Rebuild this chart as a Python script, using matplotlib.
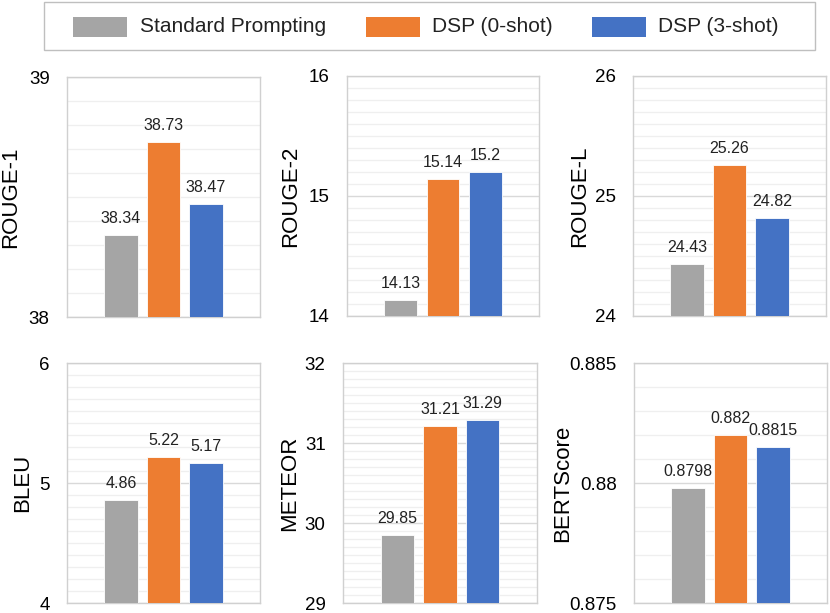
import matplotlib
matplotlib.use("Agg")
import matplotlib.pyplot as plt
import numpy as np
from matplotlib.patches import Rectangle
from matplotlib.ticker import MultipleLocator

plt.rcParams['font.family'] = ['Liberation Sans', 'DejaVu Sans']

series = ["Standard Prompting", "DSP (0-shot)", "DSP (3-shot)"]
colors = ["#A5A5A5", "#ED7D31", "#4472C4"]

metrics = ["ROUGE-1", "ROUGE-2", "ROUGE-L", "BLEU", "METEOR", "BERTScore"]
standard = [38.34, 14.13, 24.43, 4.86, 29.85, 0.8798]
dsp0 = [38.73, 15.14, 25.26, 5.22, 31.21, 0.882]
dsp3 = [38.47, 15.2, 24.82, 5.17, 31.29, 0.8815]
labels = [["38.34", "38.73", "38.47"], ["14.13", "15.14", "15.2"], ["24.43", "25.26", "24.82"],
          ["4.86", "5.22", "5.17"], ["29.85", "31.21", "31.29"], ["0.8798", "0.882", "0.8815"]]
ylims = [(38, 39), (14, 16), (24, 26), (4, 6), (29, 32), (0.875, 0.885)]
majors = [1, 1, 1, 1, 1, 0.005]
minors = [0.1, 0.1, 0.1, 0.1, 0.1, 0.001]

W, H = 830, 613
fig = plt.figure(figsize=(W / 100, H / 100), dpi=100)

# axes boxes in pixels: left, top, right, bottom
boxes = [(67, 77, 260, 317), (347, 76, 539, 316), (633, 76, 826, 316),
         (67, 363, 260, 603), (343, 363, 537, 603), (634, 363, 827, 603)]
label_right = [21, 301, 590, 33, 300, 573]

for i, m in enumerate(metrics):
    l, t, r, b = boxes[i]
    ax = fig.add_axes([l / W, 1 - b / H, (r - l) / W, (b - t) / H])
    vals = [standard[i], dsp0[i], dsp3[i]]
    lo, hi = ylims[i]
    x = np.array([-1, 0, 1])
    ax.bar(x, np.array(vals) - lo, bottom=lo, width=0.78, color=colors,
           edgecolor="white", linewidth=0.6, zorder=3)
    ax.set_xlim(-2.27, 2.27)
    ax.set_ylim(lo, hi)
    ax.yaxis.set_minor_locator(MultipleLocator(minors[i]))
    ax.grid(axis="y", which="minor", color="#efefef", linewidth=0.9, zorder=0)
    ax.grid(axis="y", which="major", color="#d9d9d9", linewidth=1.0, zorder=1)
    ax.set_xticks([])
    ax.tick_params(axis="y", which="both", length=0, labelsize=13.5, pad=12.5)
    ticks = np.arange(lo, hi + majors[i] / 2, majors[i])
    ax.set_yticks(ticks)
    ax.set_yticklabels(["{:g}".format(round(v, 4)) for v in ticks])
    for s in ax.spines.values():
        s.set_color("#d0d0d0")
        s.set_linewidth(1.0)
    for xi, v, lab in zip(x, vals, labels[i]):
        ax.annotate(lab, (xi, v), xytext=(0, 6.5), textcoords="offset points",
                    ha="center", va="bottom", fontsize=11.5, color="#222222")
    ax.set_ylabel(m, fontsize=16)
    ax.yaxis.set_label_coords((label_right[i] - l) / (r - l), 0.5)

# legend drawn in figure pixel coordinates
def px(x, y):
    return x / W, 1 - y / H

lx0, ly0, lx1, ly1 = 44, 2, 815, 50
fig.patches.append(Rectangle(px(lx0, ly1), (lx1 - lx0) / W, (ly1 - ly0) / H,
                             transform=fig.transFigure, facecolor="white",
                             edgecolor="#bfbfbf", linewidth=1.0))
patch_x = [73, 366, 592]
text_x = [140, 432, 658]
for c, name, pxx, tx in zip(colors, series, patch_x, text_x):
    fig.patches.append(Rectangle(px(pxx, 37), 54 / W, 20 / H, transform=fig.transFigure,
                                 facecolor=c, edgecolor="none"))
    fx, fy = px(tx, 27)
    fig.text(fx, fy, name, fontsize=15, ha="left", va="center", color="#222222")

fig.savefig("out.png", dpi=100)
